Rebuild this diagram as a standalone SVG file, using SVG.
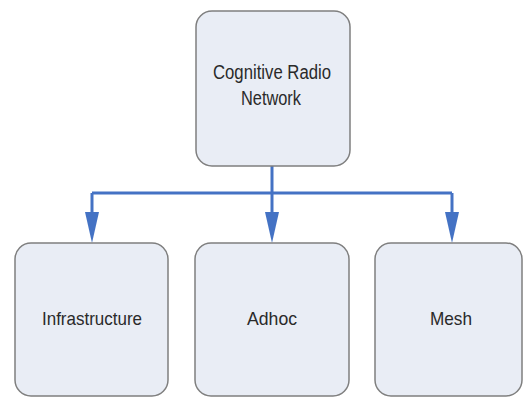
<svg xmlns="http://www.w3.org/2000/svg" width="524" height="398" viewBox="0 0 524 398">
<style>
.box{fill:#e9edf5;stroke:#7f7f7f;stroke-width:1.5}
.lbl{font-family:"Liberation Sans",Arial,sans-serif;font-size:19px;fill:#2a2a2a;text-anchor:middle}
.ttl{font-size:20px}
.ln{fill:none;stroke:#4472c4;stroke-width:3}
.ah{fill:#4472c4}
</style>
<rect width="524" height="398" fill="#ffffff"/>
<g id="connectors">
<path class="ln" d="M272,166 V193"/>
<path class="ln" d="M92,193 H452"/>
<path class="ln" d="M92,193 V214"/>
<path class="ln" d="M272,193 V214"/>
<path class="ln" d="M452,193 V214"/>
<path class="ah" d="M85,212 L99,212 L92,243 Z"/>
<path class="ah" d="M265,212 L279,212 L272,243 Z"/>
<path class="ah" d="M445,212 L459,212 L452,243 Z"/>
</g>
<g id="crn">
<rect class="box" x="196" y="11" width="154" height="155" rx="16"/>
<text class="lbl ttl" x="272" y="79" textLength="118" lengthAdjust="spacingAndGlyphs">Cognitive Radio</text>
<text class="lbl ttl" x="271" y="105" textLength="60" lengthAdjust="spacingAndGlyphs">Network</text>
</g>
<g id="infrastructure">
<rect class="box" x="15" y="243" width="153" height="153" rx="16"/>
<text class="lbl" x="92" y="325" textLength="100" lengthAdjust="spacingAndGlyphs">Infrastructure</text>
</g>
<g id="adhoc">
<rect class="box" x="195" y="243" width="154" height="153" rx="16"/>
<text class="lbl" x="272" y="325" textLength="50" lengthAdjust="spacingAndGlyphs">Adhoc</text>
</g>
<g id="mesh">
<rect class="box" x="375" y="243" width="147" height="153" rx="16"/>
<text class="lbl" x="451" y="325" textLength="42" lengthAdjust="spacingAndGlyphs">Mesh</text>
</g>
</svg>
